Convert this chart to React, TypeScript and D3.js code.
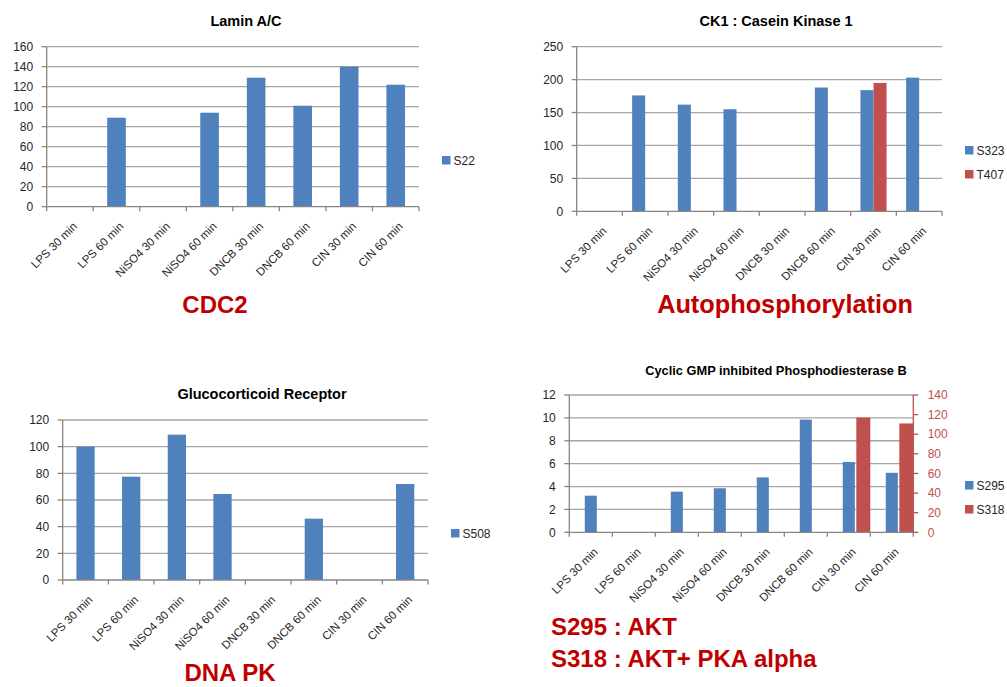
import React, { useEffect, useRef } from 'react';
import * as d3 from 'd3';

const categories = ['LPS 30 min', 'LPS 60 min', 'NiSO4 30 min', 'NiSO4 60 min', 'DNCB 30 min', 'DNCB 60 min', 'CIN 30 min', 'CIN 60 min'];

// Lamin A/C
const laminS22 = [null, 89, null, 94, 129, 101, 140, 122];
const laminTicks = [0, 20, 40, 60, 80, 100, 120, 140, 160];

// CK1 : Casein Kinase 1
const ck1S323 = [null, 176, 162, 155, null, 188, 184, 203];
const ck1T407 = [null, null, null, null, null, null, 195, null];
const ck1Ticks = [0, 50, 100, 150, 200, 250];

// Glucocorticoid Receptor
const grS508 = [100, 77.5, 109, 64.5, null, 46, null, 72];
const grTicks = [0, 20, 40, 60, 80, 100, 120];

// Cyclic GMP inhibited Phosphodiesterase B
const pdeS295 = [3.2, null, 3.55, 3.85, 4.8, 9.85, 6.15, 5.2];
const pdeS318 = [null, null, null, null, null, null, 117, 111];
const pdeTicks = [0, 2, 4, 6, 8, 10, 12];
const pdeRightTicks = [0, 20, 40, 60, 80, 100, 120, 140];

const BLUE = '#4f81bd';
const RED = '#c0504d';
const DARK_RED = '#c00000';
const FONT = '"Liberation Sans", Arial, sans-serif';

type Series = { name: string; values: (number | null)[]; color: string; right?: boolean };

interface PanelSpec {
    title: string;
    titleSize: number;
    titleX: number;
    titleY: number;
    x0: number;
    x1: number;
    yTop: number;
    yBot: number;
    ticks: number[];
    rightTicks?: number[];
    series: Series[];
    layout: 'single' | 'pair' | 'offset';
    legendX: number;
    legendY: number[];
}

const panels: PanelSpec[] = [
    {
        title: 'Lamin A/C', titleSize: 14.5, titleX: 246, titleY: 26,
        x0: 46.7, x1: 419, yTop: 46.7, yBot: 206.7, ticks: laminTicks,
        series: [{ name: 'S22', values: laminS22, color: BLUE }],
        layout: 'single', legendX: 442, legendY: [160]
    },
    {
        title: 'CK1 : Casein Kinase 1', titleSize: 14.5, titleX: 776, titleY: 26,
        x0: 576.7, x1: 942, yTop: 46.7, yBot: 211.3, ticks: ck1Ticks,
        series: [
            { name: 'S323', values: ck1S323, color: BLUE },
            { name: 'T407', values: ck1T407, color: RED }
        ],
        layout: 'pair', legendX: 965, legendY: [150, 174]
    },
    {
        title: 'Glucocorticoid Receptor', titleSize: 14.5, titleX: 262, titleY: 399,
        x0: 62.7, x1: 428, yTop: 420, yBot: 580, ticks: grTicks,
        series: [{ name: 'S508', values: grS508, color: BLUE }],
        layout: 'single', legendX: 451, legendY: [533]
    },
    {
        title: 'Cyclic GMP inhibited Phosphodiesterase B', titleSize: 12.8, titleX: 776, titleY: 375,
        x0: 569.3, x1: 913.3, yTop: 395, yBot: 532.3, ticks: pdeTicks, rightTicks: pdeRightTicks,
        series: [
            { name: 'S295', values: pdeS295, color: BLUE },
            { name: 'S318', values: pdeS318, color: RED, right: true }
        ],
        layout: 'offset', legendX: 965, legendY: [485, 509]
    }
];

const notes = [
    { text: 'CDC2', x: 215, y: 313, anchor: 'middle', size: 24 },
    { text: 'Autophosphorylation', x: 785, y: 313, anchor: 'middle', size: 25.3 },
    { text: 'DNA PK', x: 230, y: 681, anchor: 'middle', size: 24 },
    { text: 'S295 : AKT', x: 551, y: 635, anchor: 'start', size: 24 },
    { text: 'S318 : AKT+ PKA alpha', x: 551, y: 667, anchor: 'start', size: 24 }
];

function drawPanel(svg: d3.Selection<SVGSVGElement, unknown, null, undefined>, p: PanelSpec) {
    const g = svg.append('g').attr('font-family', FONT);

    const x = d3.scaleBand<string>().domain(categories).range([p.x0, p.x1]).padding(0);
    const y = d3.scaleLinear().domain([0, d3.max(p.ticks)!]).range([p.yBot, p.yTop]);
    const yRight = p.rightTicks
        ? d3.scaleLinear().domain([0, d3.max(p.rightTicks)!]).range([p.yBot, p.yTop])
        : y;
    const bw = x.bandwidth();

    // title
    g.append('text')
        .attr('x', p.titleX).attr('y', p.titleY)
        .attr('text-anchor', 'middle')
        .attr('font-weight', 'bold')
        .attr('font-size', p.titleSize)
        .attr('fill', '#000')
        .text(p.title);

    // gridlines
    g.append('g')
        .selectAll('line')
        .data(p.ticks.filter(t => t > 0))
        .join('line')
        .attr('x1', p.x0).attr('x2', p.x1)
        .attr('y1', d => y(d)).attr('y2', d => y(d))
        .attr('stroke', '#a6a6a6')
        .attr('stroke-width', 1.3);

    // bars
    p.series.forEach((s, si) => {
        const sc = s.right ? yRight : y;
        const pts = s.values
            .map((v, i) => ({ c: categories[i], v }))
            .filter(d => d.v != null) as { c: string; v: number }[];
        let bx: (c: string) => number;
        let w: number;
        if (p.layout === 'single') {
            w = bw * 0.4;
            bx = c => x(c)! + bw / 2 - w / 2;
        } else if (p.layout === 'pair') {
            w = bw / 3.5;
            const inner = d3.scaleBand<string>().domain(p.series.map(d => d.name))
                .range([-w, w]).padding(0);
            bx = c => x(c)! + bw / 2 + inner(s.name)!;
        } else {
            const w0 = bw * 0.28;
            if (si === 0) {
                w = w0;
                bx = c => x(c)! + bw / 2 - w0 / 2;
            } else {
                w = bw / 2 - w0 / 2 - 1.5;
                bx = c => x(c)! + bw / 2 + w0 / 2 + 1.5;
            }
        }
        g.append('g')
            .selectAll('rect')
            .data(pts)
            .join('rect')
            .attr('x', d => bx(d.c))
            .attr('y', d => sc(d.v))
            .attr('width', w)
            .attr('height', d => sc(0) - sc(d.v))
            .attr('fill', s.color);
    });

    // x axis
    g.append('line')
        .attr('x1', p.x0).attr('x2', p.x1)
        .attr('y1', p.yBot).attr('y2', p.yBot)
        .attr('stroke', '#868686').attr('stroke-width', 1.3);
    g.append('g')
        .selectAll('line')
        .data([...categories.map(c => x(c)!), p.x1])
        .join('line')
        .attr('x1', d => d).attr('x2', d => d)
        .attr('y1', p.yBot).attr('y2', p.yBot + 4.5)
        .attr('stroke', '#868686').attr('stroke-width', 1.3);
    g.append('g')
        .selectAll('text')
        .data(categories)
        .join('text')
        .attr('transform', d => `translate(${x(d)! + bw / 2 + 5},${p.yBot + 17.5}) rotate(-45)`)
        .attr('text-anchor', 'end')
        .attr('dy', '0.35em')
        .attr('font-size', 11.5)
        .attr('fill', '#262626')
        .text(d => d);

    // y axis
    g.append('line')
        .attr('x1', p.x0).attr('x2', p.x0)
        .attr('y1', p.yTop).attr('y2', p.yBot)
        .attr('stroke', '#868686').attr('stroke-width', 1.3);
    g.append('g')
        .selectAll('line')
        .data(p.ticks)
        .join('line')
        .attr('x1', p.x0 - 5).attr('x2', p.x0)
        .attr('y1', d => y(d)).attr('y2', d => y(d))
        .attr('stroke', '#868686').attr('stroke-width', 1.3);
    g.append('g')
        .selectAll('text')
        .data(p.ticks)
        .join('text')
        .attr('x', p.x0 - 13.5)
        .attr('y', d => y(d))
        .attr('dy', '0.35em')
        .attr('text-anchor', 'end')
        .attr('font-size', 12)
        .attr('fill', '#262626')
        .text(d => d);

    // secondary axis
    if (p.rightTicks) {
        g.append('line')
            .attr('x1', p.x1).attr('x2', p.x1)
            .attr('y1', p.yTop).attr('y2', p.yBot)
            .attr('stroke', RED).attr('stroke-width', 1.3);
        g.append('g')
            .selectAll('line')
            .data(p.rightTicks)
            .join('line')
            .attr('x1', p.x1).attr('x2', p.x1 + 5)
            .attr('y1', d => yRight(d)).attr('y2', d => yRight(d))
            .attr('stroke', RED).attr('stroke-width', 1.3);
        g.append('g')
            .selectAll('text')
            .data(p.rightTicks)
            .join('text')
            .attr('x', p.x1 + 14.4)
            .attr('y', d => yRight(d))
            .attr('dy', '0.35em')
            .attr('font-size', 12)
            .attr('fill', RED)
            .text(d => d);
    }

    // legend
    const lg = g.append('g')
        .selectAll('g')
        .data(p.series)
        .join('g')
        .attr('transform', (d, i) => `translate(${p.legendX},${p.legendY[i]})`);
    lg.append('rect')
        .attr('x', 0).attr('y', -4)
        .attr('width', 8.5).attr('height', 8.5)
        .attr('fill', d => d.color);
    lg.append('text')
        .attr('x', 11.5).attr('y', 0)
        .attr('dy', '0.38em')
        .attr('font-size', 12)
        .attr('fill', '#262626')
        .text(d => d.name);
}

export default function App() {
    const svgRef = useRef<SVGSVGElement>(null);

    useEffect(() => {
        if (!svgRef.current) return;
        const svg = d3.select(svgRef.current);
        svg.selectAll('*').remove();

        svg.append('rect').attr('width', 1007).attr('height', 687).attr('fill', '#fff');

        panels.forEach(p => drawPanel(svg, p));

        svg.append('g')
            .selectAll('text')
            .data(notes)
            .join('text')
            .attr('x', d => d.x)
            .attr('y', d => d.y)
            .attr('text-anchor', d => d.anchor)
            .attr('font-family', FONT)
            .attr('font-weight', 'bold')
            .attr('font-size', d => d.size)
            .attr('fill', DARK_RED)
            .text(d => d.text);
    }, []);

    return (
        <svg
            ref={svgRef}
            width={1007}
            height={687}
            style={{ position: 'absolute', left: 0, top: 0, display: 'block' }}
        />
    );
}
